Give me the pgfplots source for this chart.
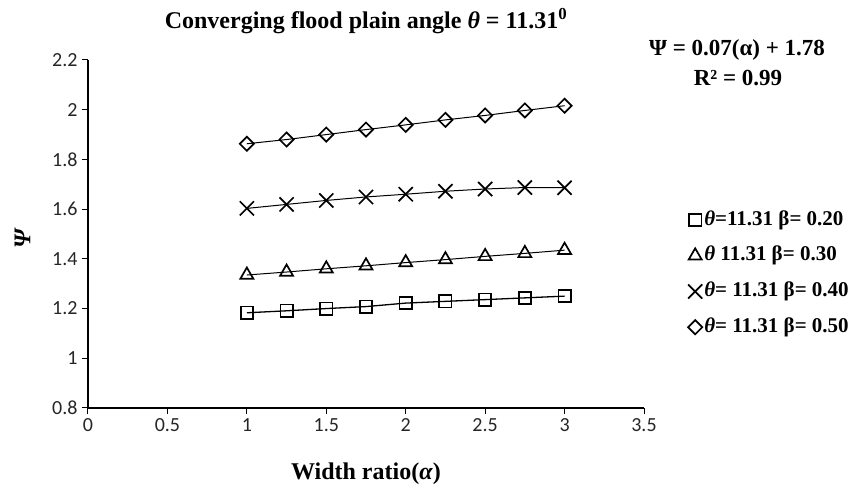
\documentclass[border=0pt]{standalone}
\usepackage{pgfplots}
\usepackage{pgfplotstable}
\pgfplotsset{compat=1.18}
\usepackage{fontspec}
\setmainfont{Liberation Serif}
\newfontfamily\carlito{Carlito}

% Psi against width ratio alpha, one table per beta
\pgfplotstableread{
a psi
1.00 1.183
1.25 1.191
1.50 1.200
1.75 1.208
2.00 1.222
2.25 1.229
2.50 1.236
2.75 1.243
3.00 1.250
}\betaA
\pgfplotstableread{
a psi
1.00 1.335
1.25 1.347
1.50 1.360
1.75 1.372
2.00 1.385
2.25 1.397
2.50 1.410
2.75 1.422
3.00 1.435
}\betaB
\pgfplotstableread{
a psi
1.00 1.603
1.25 1.619
1.50 1.635
1.75 1.649
2.00 1.660
2.25 1.672
2.50 1.681
2.75 1.687
3.00 1.686
}\betaC
\pgfplotstableread{
a psi
1.00 1.863
1.25 1.880
1.50 1.900
1.75 1.920
2.00 1.939
2.25 1.959
2.50 1.977
2.75 1.997
3.00 2.016
}\betaD

\begin{document}
\begin{tikzpicture}[x=1pt,y=1pt]
\path[use as bounding box] (0,0) rectangle (862,486);
\begin{axis}[
  at={(88pt,78pt)}, anchor=south west,
  scale only axis, width=556pt, height=348pt,
  xmin=0, xmax=3.5, ymin=0.8, ymax=2.2,
  xtick={0,0.5,1,1.5,2,2.5,3,3.5},
  ytick={0.8,1,1.2,1.4,1.6,1.8,2,2.2},
  axis x line*=bottom, axis y line*=left,
  axis line style={line width=1.5pt, -},
  tick align=outside, major tick length=6pt,
  tick style={line width=1pt, black},
  /pgf/number format/assume math mode=true,
  tick label style={font=\carlito\fontsize{20}{20}\selectfont, text=black!85},
  xticklabel style={yshift=-1pt},
  yticklabel style={xshift=-1pt},
  xlabel={\textbf{Width ratio(\textit{α})}},
  ylabel={\textbf{\textit{Ψ}}},
  label style={font=\fontsize{24}{24}\selectfont},
  xlabel style={at={(axis description cs:0.5,0)}, anchor=center, yshift=-66pt},
  ylabel style={at={(axis description cs:-0.118,0.489)}, anchor=center},
  legend style={draw=none, fill=none, at={(axis description cs:1.079,0.575)},
    anchor=north west, font=\bfseries\fontsize{21}{21}\selectfont,
    nodes={text height=15pt, text depth=5pt},
    row sep=11.7pt, inner sep=0pt},
  legend cell align=left,
  legend image code/.code={\draw[#1] plot coordinates {(0.08cm,0cm)};},
  every axis plot/.append style={black},
]
% connecting lines
\addplot[forget plot, line width=1.3pt] table[x=a,y=psi] {\betaA};
\addplot[forget plot, line width=1pt] table[x=a,y=psi] {\betaB};
\addplot[forget plot, line width=1pt] table[x=a,y=psi] {\betaC};
\addplot[forget plot, line width=1pt] table[x=a,y=psi] {\betaD};
% markers
\addplot[only marks, mark=square, mark size=6.2pt, line width=1.7pt] table[x=a,y=psi] {\betaA};
\addlegendentry{\textit{θ}=11.31 β= 0.20}
\addplot[only marks, mark=triangle, mark size=7.5pt, line width=1.7pt] table[x=a,y=psi] {\betaB};
\addlegendentry{\textit{θ} 11.31 β= 0.30}
\addplot[only marks, mark=x, mark size=10pt, line width=1.7pt] table[x=a,y=psi] {\betaC};
\addlegendentry{\textit{θ}= 11.31 β= 0.40}
\addplot[only marks, mark=square, mark options={rotate=45}, mark size=5pt, line width=1.7pt] table[x=a,y=psi] {\betaD};
\addlegendentry{\textit{θ}= 11.31 β= 0.50}
\end{axis}
\node[font=\bfseries\fontsize{24}{24}\selectfont] at (366,465)
  {Converging flood plain angle \textit{θ} = 11.31\textsuperscript{0}};
\node[font=\bfseries\fontsize{23}{23}\selectfont] at (737,436) {Ψ = 0.07(α) + 1.78};
\node[font=\bfseries\fontsize{23}{23}\selectfont] at (738,408) {R² = 0.99};
\end{tikzpicture}
\end{document}
